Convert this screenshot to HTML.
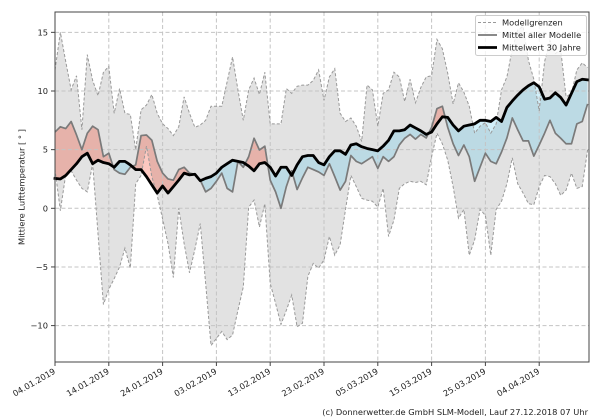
<!DOCTYPE html>
<html><head><meta charset="utf-8"><style>
html,body{margin:0;padding:0;background:#fff;}
svg{display:block;font-family:"DejaVu Sans","Liberation Sans",sans-serif;}
</style></head><body>
<svg width="600" height="420" viewBox="0 0 600 420" xmlns="http://www.w3.org/2000/svg">
<rect width="600" height="420" fill="#fff"/>
<defs>
<clipPath id="above" clipPathUnits="userSpaceOnUse"><polygon points="0,2.55 1,2.5 2,2.8 3,3.3 4,3.8 5,4.4 6,4.7 7,3.8 8,4.1 9,3.9 10,3.8 11,3.5 12,4 13,4 14,3.7 15,3.3 16,3.3 17,2.7 18,2 19,1.3 20,1.9 21,1.3 22,1.85 23,2.4 24,3 25,2.85 26,2.9 27,2.35 28,2.55 29,2.7 30,3 31,3.5 32,3.8 33,4.1 34,4 35,3.9 36,3.6 37,3.2 38,3.8 39,3.9 40,3.5 41,2.75 42,3.5 43,3.5 44,2.8 45,3.7 46,4.4 47,4.5 48,4.5 49,3.9 50,3.7 51,4.4 52,4.9 53,4.9 54,4.6 55,5.4 56,5.5 57,5.25 58,5.1 59,5 60,4.9 61,5.3 62,5.8 63,6.6 64,6.6 65,6.7 66,7.1 67,6.85 68,6.6 69,6.3 70,6.5 71,7.2 72,7.8 73,7.75 74,7.1 75,6.6 76,7 77,7.1 78,7.2 79,7.5 80,7.5 81,7.4 82,7.75 83,7.4 84,8.6 85,9.15 86,9.65 87,10.1 88,10.45 89,10.7 90,10.35 91,9.3 92,9.4 93,9.85 94,9.45 95,8.8 96,9.8 97,10.8 98,11 99,10.95 99,40 0,40"/></clipPath>
<clipPath id="below" clipPathUnits="userSpaceOnUse"><polygon points="0,2.55 1,2.5 2,2.8 3,3.3 4,3.8 5,4.4 6,4.7 7,3.8 8,4.1 9,3.9 10,3.8 11,3.5 12,4 13,4 14,3.7 15,3.3 16,3.3 17,2.7 18,2 19,1.3 20,1.9 21,1.3 22,1.85 23,2.4 24,3 25,2.85 26,2.9 27,2.35 28,2.55 29,2.7 30,3 31,3.5 32,3.8 33,4.1 34,4 35,3.9 36,3.6 37,3.2 38,3.8 39,3.9 40,3.5 41,2.75 42,3.5 43,3.5 44,2.8 45,3.7 46,4.4 47,4.5 48,4.5 49,3.9 50,3.7 51,4.4 52,4.9 53,4.9 54,4.6 55,5.4 56,5.5 57,5.25 58,5.1 59,5 60,4.9 61,5.3 62,5.8 63,6.6 64,6.6 65,6.7 66,7.1 67,6.85 68,6.6 69,6.3 70,6.5 71,7.2 72,7.8 73,7.75 74,7.1 75,6.6 76,7 77,7.1 78,7.2 79,7.5 80,7.5 81,7.4 82,7.75 83,7.4 84,8.6 85,9.15 86,9.65 87,10.1 88,10.45 89,10.7 90,10.35 91,9.3 92,9.4 93,9.85 94,9.45 95,8.8 96,9.8 97,10.8 98,11 99,10.95 99,-40 0,-40"/></clipPath>
</defs>

<!-- data fills -->
<g transform="translate(55,208.3) scale(5.38,-11.73)">
<polygon fill="#e2e2e2" stroke="none" points="0,11.8 1,15 2,12.5 3,10.1 4,11.3 5,6.7 6,13.1 7,10.9 8,9.6 9,11.6 10,12.1 11,8.1 12,10.2 13,8.1 14,8 15,5 16,8.4 17,8.8 18,9.7 19,8.1 20,7.2 21,6.8 22,6.2 23,6.95 24,9.5 25,8.1 26,6.9 27,7.1 28,7.5 29,8.7 30,8.7 31,8.7 32,10.8 33,12.9 34,10.1 35,7.5 36,10.1 37,11.1 38,9.7 39,11.6 40,7.2 41,7.2 42,7.2 43,10.2 44,9.8 45,10.4 46,10.5 47,10.5 48,10.9 49,11.8 50,9.2 51,11.2 52,11.9 53,8.1 54,7.4 55,7.7 56,7 57,5.7 58,10.5 59,10.1 60,7 61,9.8 62,10.1 63,11.6 64,11.2 65,9.1 66,11 67,9 68,10.3 69,11.2 70,11.3 71,14.4 72,13.6 73,11.5 74,8.9 75,10.7 76,9.9 77,8.7 78,6.4 79,7 80,7.3 81,6.4 82,7.2 83,10.1 84,11.2 85,13.6 86,15.2 87,15.5 88,12.6 89,11 90,8.3 91,12.5 92,14.3 93,13.2 94,13.5 95,9.5 96,9.8 97,11.8 98,12.4 99,12 99,5 98,1.85 97,1.7 96,3 95,1.55 94,1.1 93,2.1 92,2.7 91,2.8 90,1.85 89,0.3 88,0.4 87,1.3 86,2.1 85,4.3 84,2.1 83,0.6 82,-0.1 81,-4 80,-0.6 79,-0.1 78,-2.7 77,-4 76,-0.1 75,-0.85 74,1.85 73,4.1 72,5.5 71,6.4 70,4.4 69,2 68,2.3 67,2.2 66,2.3 65,2.1 64,1.7 63,-1 62,-2.4 61,1.7 60,0.1 59,0.6 58,0.7 57,0.85 56,1.85 55,2.8 54,-0.1 53,-3.1 52,-4 51,-2.4 50,-4.4 49,-5.1 48,-4.7 47,-5.8 46,-9.8 45,-10.1 44,-7.4 43,-8.7 42,-9.9 41,-8.1 40,-6.4 39,0.4 38,-1.6 37,0.7 36,0.1 35,-6.7 34,-8.7 33,-10.8 32,-11.2 31,-10.5 30,-11.1 29,-11.7 28,-6.4 27,-1.3 26,-3.5 25,-5.5 24,-3 23,0 22,-5.9 21,-3 20,-0.9 19,1.1 18,2.7 17,5.3 16,2.8 15,2.1 14,-5.1 13,-3.4 12,-5 11,-6 10,-6.9 9,-8.2 8,-2.2 7,3.8 6,1.4 5,1.7 4,2.4 3,3.2 2,2.9 1,-0.2 0,3.3"/>
<polygon clip-path="url(#above)" fill="rgb(243,43,13)" fill-opacity="0.26" points="0,6.5 1,6.95 2,6.8 3,7.4 4,6.25 5,5 6,6.4 7,7 8,6.7 9,4.4 10,4.7 11,3.3 12,3 13,2.9 14,3.5 15,3.7 16,6.2 17,6.25 18,5.8 19,4 20,3 21,2.5 22,2.4 23,3.3 24,3.5 25,3 26,2.9 27,2.4 28,1.4 29,1.7 30,2.3 31,3 32,1.7 33,1.4 34,4 35,3.5 36,4.4 37,5.97 38,4.97 39,5.3 40,2.4 41,1.4 42,0 43,1.85 44,3.2 45,1.6 46,2.6 47,3.5 48,3.3 49,3.1 50,2.8 51,3.8 52,2.7 53,1.55 54,2.3 55,4.5 56,4 57,3.8 58,4.1 59,4.4 60,3.4 61,4.4 62,4 63,4.4 64,5.4 65,5.97 66,6.3 67,5.9 68,6.3 69,6 70,6.9 71,8.5 72,8.7 73,6.9 74,5.5 75,4.5 76,5.4 77,4.4 78,2.3 79,3.5 80,4.7 81,4 82,3.8 83,4.8 84,6 85,7.7 86,6.7 87,5.75 88,5.75 89,4.45 90,5.4 91,6.4 92,7.5 93,6.4 94,5.97 95,5.5 96,5.5 97,7.2 98,7.4 99,8.9 99,10.95 98,11 97,10.8 96,9.8 95,8.8 94,9.45 93,9.85 92,9.4 91,9.3 90,10.35 89,10.7 88,10.45 87,10.1 86,9.65 85,9.15 84,8.6 83,7.4 82,7.75 81,7.4 80,7.5 79,7.5 78,7.2 77,7.1 76,7 75,6.6 74,7.1 73,7.75 72,7.8 71,7.2 70,6.5 69,6.3 68,6.6 67,6.85 66,7.1 65,6.7 64,6.6 63,6.6 62,5.8 61,5.3 60,4.9 59,5 58,5.1 57,5.25 56,5.5 55,5.4 54,4.6 53,4.9 52,4.9 51,4.4 50,3.7 49,3.9 48,4.5 47,4.5 46,4.4 45,3.7 44,2.8 43,3.5 42,3.5 41,2.75 40,3.5 39,3.9 38,3.8 37,3.2 36,3.6 35,3.9 34,4 33,4.1 32,3.8 31,3.5 30,3 29,2.7 28,2.55 27,2.35 26,2.9 25,2.85 24,3 23,2.4 22,1.85 21,1.3 20,1.9 19,1.3 18,2 17,2.7 16,3.3 15,3.3 14,3.7 13,4 12,4 11,3.5 10,3.8 9,3.9 8,4.1 7,3.8 6,4.7 5,4.4 4,3.8 3,3.3 2,2.8 1,2.5 0,2.55"/>
<polygon clip-path="url(#below)" fill="rgb(82,197,236)" fill-opacity="0.26" points="0,6.5 1,6.95 2,6.8 3,7.4 4,6.25 5,5 6,6.4 7,7 8,6.7 9,4.4 10,4.7 11,3.3 12,3 13,2.9 14,3.5 15,3.7 16,6.2 17,6.25 18,5.8 19,4 20,3 21,2.5 22,2.4 23,3.3 24,3.5 25,3 26,2.9 27,2.4 28,1.4 29,1.7 30,2.3 31,3 32,1.7 33,1.4 34,4 35,3.5 36,4.4 37,5.97 38,4.97 39,5.3 40,2.4 41,1.4 42,0 43,1.85 44,3.2 45,1.6 46,2.6 47,3.5 48,3.3 49,3.1 50,2.8 51,3.8 52,2.7 53,1.55 54,2.3 55,4.5 56,4 57,3.8 58,4.1 59,4.4 60,3.4 61,4.4 62,4 63,4.4 64,5.4 65,5.97 66,6.3 67,5.9 68,6.3 69,6 70,6.9 71,8.5 72,8.7 73,6.9 74,5.5 75,4.5 76,5.4 77,4.4 78,2.3 79,3.5 80,4.7 81,4 82,3.8 83,4.8 84,6 85,7.7 86,6.7 87,5.75 88,5.75 89,4.45 90,5.4 91,6.4 92,7.5 93,6.4 94,5.97 95,5.5 96,5.5 97,7.2 98,7.4 99,8.9 99,10.95 98,11 97,10.8 96,9.8 95,8.8 94,9.45 93,9.85 92,9.4 91,9.3 90,10.35 89,10.7 88,10.45 87,10.1 86,9.65 85,9.15 84,8.6 83,7.4 82,7.75 81,7.4 80,7.5 79,7.5 78,7.2 77,7.1 76,7 75,6.6 74,7.1 73,7.75 72,7.8 71,7.2 70,6.5 69,6.3 68,6.6 67,6.85 66,7.1 65,6.7 64,6.6 63,6.6 62,5.8 61,5.3 60,4.9 59,5 58,5.1 57,5.25 56,5.5 55,5.4 54,4.6 53,4.9 52,4.9 51,4.4 50,3.7 49,3.9 48,4.5 47,4.5 46,4.4 45,3.7 44,2.8 43,3.5 42,3.5 41,2.75 40,3.5 39,3.9 38,3.8 37,3.2 36,3.6 35,3.9 34,4 33,4.1 32,3.8 31,3.5 30,3 29,2.7 28,2.55 27,2.35 26,2.9 25,2.85 24,3 23,2.4 22,1.85 21,1.3 20,1.9 19,1.3 18,2 17,2.7 16,3.3 15,3.3 14,3.7 13,4 12,4 11,3.5 10,3.8 9,3.9 8,4.1 7,3.8 6,4.7 5,4.4 4,3.8 3,3.3 2,2.8 1,2.5 0,2.55"/>
</g>

<!-- grid -->
<g stroke="#c4c4c4" stroke-width="1" stroke-dasharray="4,2.5" fill="none">
<line x1="108.8" y1="12" x2="108.8" y2="362"/>
<line x1="162.6" y1="12" x2="162.6" y2="362"/>
<line x1="216.4" y1="12" x2="216.4" y2="362"/>
<line x1="270.2" y1="12" x2="270.2" y2="362"/>
<line x1="324" y1="12" x2="324" y2="362"/>
<line x1="377.8" y1="12" x2="377.8" y2="362"/>
<line x1="431.6" y1="12" x2="431.6" y2="362"/>
<line x1="485.4" y1="12" x2="485.4" y2="362"/>
<line x1="539.2" y1="12" x2="539.2" y2="362"/>
<line x1="55" y1="32.35" x2="589" y2="32.35"/>
<line x1="55" y1="91" x2="589" y2="91"/>
<line x1="55" y1="149.65" x2="589" y2="149.65"/>
<line x1="55" y1="208.3" x2="589" y2="208.3"/>
<line x1="55" y1="266.95" x2="589" y2="266.95"/>
<line x1="55" y1="325.6" x2="589" y2="325.6"/>
</g>

<!-- lines -->
<g transform="translate(55,208.3) scale(5.38,-11.73)" fill="none">
<polyline vector-effect="non-scaling-stroke" stroke="#999" stroke-width="1" stroke-dasharray="3,2" points="0,11.8 1,15 2,12.5 3,10.1 4,11.3 5,6.7 6,13.1 7,10.9 8,9.6 9,11.6 10,12.1 11,8.1 12,10.2 13,8.1 14,8 15,5 16,8.4 17,8.8 18,9.7 19,8.1 20,7.2 21,6.8 22,6.2 23,6.95 24,9.5 25,8.1 26,6.9 27,7.1 28,7.5 29,8.7 30,8.7 31,8.7 32,10.8 33,12.9 34,10.1 35,7.5 36,10.1 37,11.1 38,9.7 39,11.6 40,7.2 41,7.2 42,7.2 43,10.2 44,9.8 45,10.4 46,10.5 47,10.5 48,10.9 49,11.8 50,9.2 51,11.2 52,11.9 53,8.1 54,7.4 55,7.7 56,7 57,5.7 58,10.5 59,10.1 60,7 61,9.8 62,10.1 63,11.6 64,11.2 65,9.1 66,11 67,9 68,10.3 69,11.2 70,11.3 71,14.4 72,13.6 73,11.5 74,8.9 75,10.7 76,9.9 77,8.7 78,6.4 79,7 80,7.3 81,6.4 82,7.2 83,10.1 84,11.2 85,13.6 86,15.2 87,15.5 88,12.6 89,11 90,8.3 91,12.5 92,14.3 93,13.2 94,13.5 95,9.5 96,9.8 97,11.8 98,12.4 99,12"/>
<polyline vector-effect="non-scaling-stroke" stroke="#999" stroke-width="1" stroke-dasharray="3,2" points="99,5 98,1.85 97,1.7 96,3 95,1.55 94,1.1 93,2.1 92,2.7 91,2.8 90,1.85 89,0.3 88,0.4 87,1.3 86,2.1 85,4.3 84,2.1 83,0.6 82,-0.1 81,-4 80,-0.6 79,-0.1 78,-2.7 77,-4 76,-0.1 75,-0.85 74,1.85 73,4.1 72,5.5 71,6.4 70,4.4 69,2 68,2.3 67,2.2 66,2.3 65,2.1 64,1.7 63,-1 62,-2.4 61,1.7 60,0.1 59,0.6 58,0.7 57,0.85 56,1.85 55,2.8 54,-0.1 53,-3.1 52,-4 51,-2.4 50,-4.4 49,-5.1 48,-4.7 47,-5.8 46,-9.8 45,-10.1 44,-7.4 43,-8.7 42,-9.9 41,-8.1 40,-6.4 39,0.4 38,-1.6 37,0.7 36,0.1 35,-6.7 34,-8.7 33,-10.8 32,-11.2 31,-10.5 30,-11.1 29,-11.7 28,-6.4 27,-1.3 26,-3.5 25,-5.5 24,-3 23,0 22,-5.9 21,-3 20,-0.9 19,1.1 18,2.7 17,5.3 16,2.8 15,2.1 14,-5.1 13,-3.4 12,-5 11,-6 10,-6.9 9,-8.2 8,-2.2 7,3.8 6,1.4 5,1.7 4,2.4 3,3.2 2,2.9 1,-0.2 0,3.3"/>
<polyline vector-effect="non-scaling-stroke" stroke="#7a7a7a" stroke-width="1.7" stroke-linejoin="round" points="0,6.5 1,6.95 2,6.8 3,7.4 4,6.25 5,5 6,6.4 7,7 8,6.7 9,4.4 10,4.7 11,3.3 12,3 13,2.9 14,3.5 15,3.7 16,6.2 17,6.25 18,5.8 19,4 20,3 21,2.5 22,2.4 23,3.3 24,3.5 25,3 26,2.9 27,2.4 28,1.4 29,1.7 30,2.3 31,3 32,1.7 33,1.4 34,4 35,3.5 36,4.4 37,5.97 38,4.97 39,5.3 40,2.4 41,1.4 42,0 43,1.85 44,3.2 45,1.6 46,2.6 47,3.5 48,3.3 49,3.1 50,2.8 51,3.8 52,2.7 53,1.55 54,2.3 55,4.5 56,4 57,3.8 58,4.1 59,4.4 60,3.4 61,4.4 62,4 63,4.4 64,5.4 65,5.97 66,6.3 67,5.9 68,6.3 69,6 70,6.9 71,8.5 72,8.7 73,6.9 74,5.5 75,4.5 76,5.4 77,4.4 78,2.3 79,3.5 80,4.7 81,4 82,3.8 83,4.8 84,6 85,7.7 86,6.7 87,5.75 88,5.75 89,4.45 90,5.4 91,6.4 92,7.5 93,6.4 94,5.97 95,5.5 96,5.5 97,7.2 98,7.4 99,8.9"/>
<polyline vector-effect="non-scaling-stroke" stroke="#000" stroke-width="2.8" stroke-linejoin="round" stroke-linecap="square" points="0,2.55 1,2.5 2,2.8 3,3.3 4,3.8 5,4.4 6,4.7 7,3.8 8,4.1 9,3.9 10,3.8 11,3.5 12,4 13,4 14,3.7 15,3.3 16,3.3 17,2.7 18,2 19,1.3 20,1.9 21,1.3 22,1.85 23,2.4 24,3 25,2.85 26,2.9 27,2.35 28,2.55 29,2.7 30,3 31,3.5 32,3.8 33,4.1 34,4 35,3.9 36,3.6 37,3.2 38,3.8 39,3.9 40,3.5 41,2.75 42,3.5 43,3.5 44,2.8 45,3.7 46,4.4 47,4.5 48,4.5 49,3.9 50,3.7 51,4.4 52,4.9 53,4.9 54,4.6 55,5.4 56,5.5 57,5.25 58,5.1 59,5 60,4.9 61,5.3 62,5.8 63,6.6 64,6.6 65,6.7 66,7.1 67,6.85 68,6.6 69,6.3 70,6.5 71,7.2 72,7.8 73,7.75 74,7.1 75,6.6 76,7 77,7.1 78,7.2 79,7.5 80,7.5 81,7.4 82,7.75 83,7.4 84,8.6 85,9.15 86,9.65 87,10.1 88,10.45 89,10.7 90,10.35 91,9.3 92,9.4 93,9.85 94,9.45 95,8.8 96,9.8 97,10.8 98,11 99,10.95"/>
</g>

<!-- axes frame -->
<rect x="55" y="12" width="534" height="350" fill="none" stroke="#444" stroke-width="1"/>

<!-- ticks -->
<g stroke="#444" stroke-width="1">
<line x1="51" y1="32.35" x2="55" y2="32.35"/>
<line x1="51" y1="91" x2="55" y2="91"/>
<line x1="51" y1="149.65" x2="55" y2="149.65"/>
<line x1="51" y1="208.3" x2="55" y2="208.3"/>
<line x1="51" y1="266.95" x2="55" y2="266.95"/>
<line x1="51" y1="325.6" x2="55" y2="325.6"/>
<line x1="55" y1="362" x2="55" y2="366"/>
<line x1="108.8" y1="362" x2="108.8" y2="366"/>
<line x1="162.6" y1="362" x2="162.6" y2="366"/>
<line x1="216.4" y1="362" x2="216.4" y2="366"/>
<line x1="270.2" y1="362" x2="270.2" y2="366"/>
<line x1="324" y1="362" x2="324" y2="366"/>
<line x1="377.8" y1="362" x2="377.8" y2="366"/>
<line x1="431.6" y1="362" x2="431.6" y2="366"/>
<line x1="485.4" y1="362" x2="485.4" y2="366"/>
<line x1="539.2" y1="362" x2="539.2" y2="366"/>
</g>

<!-- y tick labels -->
<g font-size="8.3" fill="#222" text-anchor="end">
<text x="48" y="35.3">15</text>
<text x="48" y="94">10</text>
<text x="48" y="152.6">5</text>
<text x="48" y="211.3">0</text>
<text x="48" y="270">−5</text>
<text x="48" y="328.6">−10</text>
</g>

<!-- x tick labels -->
<g font-size="8.3" fill="#222" text-anchor="end">
<text transform="translate(56,373) rotate(-30)">04.01.2019</text>
<text transform="translate(109.8,373) rotate(-30)">14.01.2019</text>
<text transform="translate(163.6,373) rotate(-30)">24.01.2019</text>
<text transform="translate(217.4,373) rotate(-30)">03.02.2019</text>
<text transform="translate(271.2,373) rotate(-30)">13.02.2019</text>
<text transform="translate(325,373) rotate(-30)">23.02.2019</text>
<text transform="translate(378.8,373) rotate(-30)">05.03.2019</text>
<text transform="translate(432.6,373) rotate(-30)">15.03.2019</text>
<text transform="translate(486.4,373) rotate(-30)">25.03.2019</text>
<text transform="translate(540.2,373) rotate(-30)">04.04.2019</text>
</g>

<!-- y axis label -->
<text transform="translate(24.5,187) rotate(-90)" font-size="8.3" fill="#222" text-anchor="middle">Mittlere Lufttemperatur [ ° ]</text>

<!-- legend -->
<rect x="475.5" y="15.5" width="111" height="40" rx="2" ry="2" fill="#fff" fill-opacity="0.8" stroke="#ccc" stroke-width="1"/>
<line x1="478" y1="22.5" x2="497" y2="22.5" stroke="#999" stroke-width="1" stroke-dasharray="3,2"/>
<line x1="478" y1="35" x2="497" y2="35" stroke="#7a7a7a" stroke-width="1.7"/>
<line x1="478" y1="47.5" x2="497" y2="47.5" stroke="#000" stroke-width="2.8"/>
<g font-size="8.3" fill="#222">
<text x="502" y="25.5">Modellgrenzen</text>
<text x="502" y="38">Mittel aller Modelle</text>
<text x="502" y="50.5">Mittelwert 30 Jahre</text>
</g>

<!-- footer -->
<text x="588" y="415" font-size="8.3" fill="#222" text-anchor="end">(c) Donnerwetter.de GmbH SLM-Modell, Lauf 27.12.2018 07 Uhr</text>
</svg>
</body></html>
